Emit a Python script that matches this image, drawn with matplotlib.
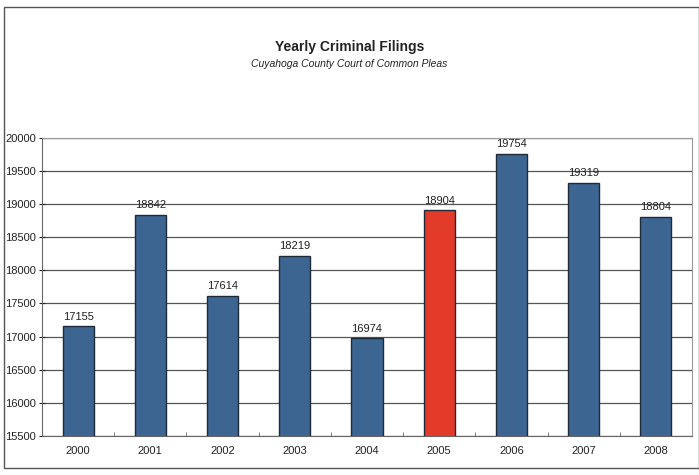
import matplotlib.pyplot as plt
from matplotlib.patches import Rectangle

years  = ["2000", "2001", "2002", "2003", "2004", "2005", "2006", "2007", "2008"]
counts = [17155, 18842, 17614, 18219, 16974, 18904, 19754, 19319, 18804]
highlight = "2005"

BLUE = "#3d6591"
RED  = "#e23b2a"

plt.rcParams["font.family"] = ["Liberation Sans", "DejaVu Sans"]

fig = plt.figure(figsize=(6.99, 4.75), dpi=100)
fig.patch.set_facecolor("white")

# outer chart frame
fig.add_artist(Rectangle((0.006, 0.015), 0.994, 0.97, transform=fig.transFigure,
                         fill=False, edgecolor="#555555", linewidth=1.0))

ax = fig.add_axes([0.060, 0.082, 0.930, 0.628])

x = range(len(years))
colors = [RED if y == highlight else BLUE for y in years]
ax.bar(x, counts, width=0.43, color=colors, edgecolor="#1f2a38",
       linewidth=1.0, zorder=3)

for xi, v in zip(x, counts):
    ax.text(xi, v + 70, str(v), ha="center", va="bottom", fontsize=8,
            color="#222222", zorder=4)

ax.set_ylim(15500, 20000)
ax.set_xlim(-0.5, len(years) - 0.5)
ax.set_yticks(range(15500, 20001, 500))
ax.set_xticks(list(x))
ax.set_xticklabels(years)
ax.set_xticks([i + 0.5 for i in range(len(years) - 1)], minor=True)
ax.tick_params(axis="both", labelsize=8, colors="#222222")
ax.tick_params(axis="y", direction="inout", length=5, pad=2)
ax.tick_params(axis="x", which="major", length=0, pad=7)
ax.tick_params(axis="x", which="minor", direction="in", length=3, color="#666666")
ax.yaxis.grid(True, color="#555555", linewidth=0.9, zorder=0)
ax.set_axisbelow(True)
for side in ["top", "right"]:
    ax.spines[side].set_color("#999999")
for side in ["left", "bottom"]:
    ax.spines[side].set_color("#666666")

fig.text(0.5, 0.9, "Yearly Criminal Filings", ha="center", va="center",
         fontsize=10, fontweight="bold", color="#222222")
fig.text(0.5, 0.865, "Cuyahoga County Court of Common Pleas", ha="center",
         va="center", fontsize=7.5, style="italic", color="#222222")

plt.savefig("out.png", dpi=100)
